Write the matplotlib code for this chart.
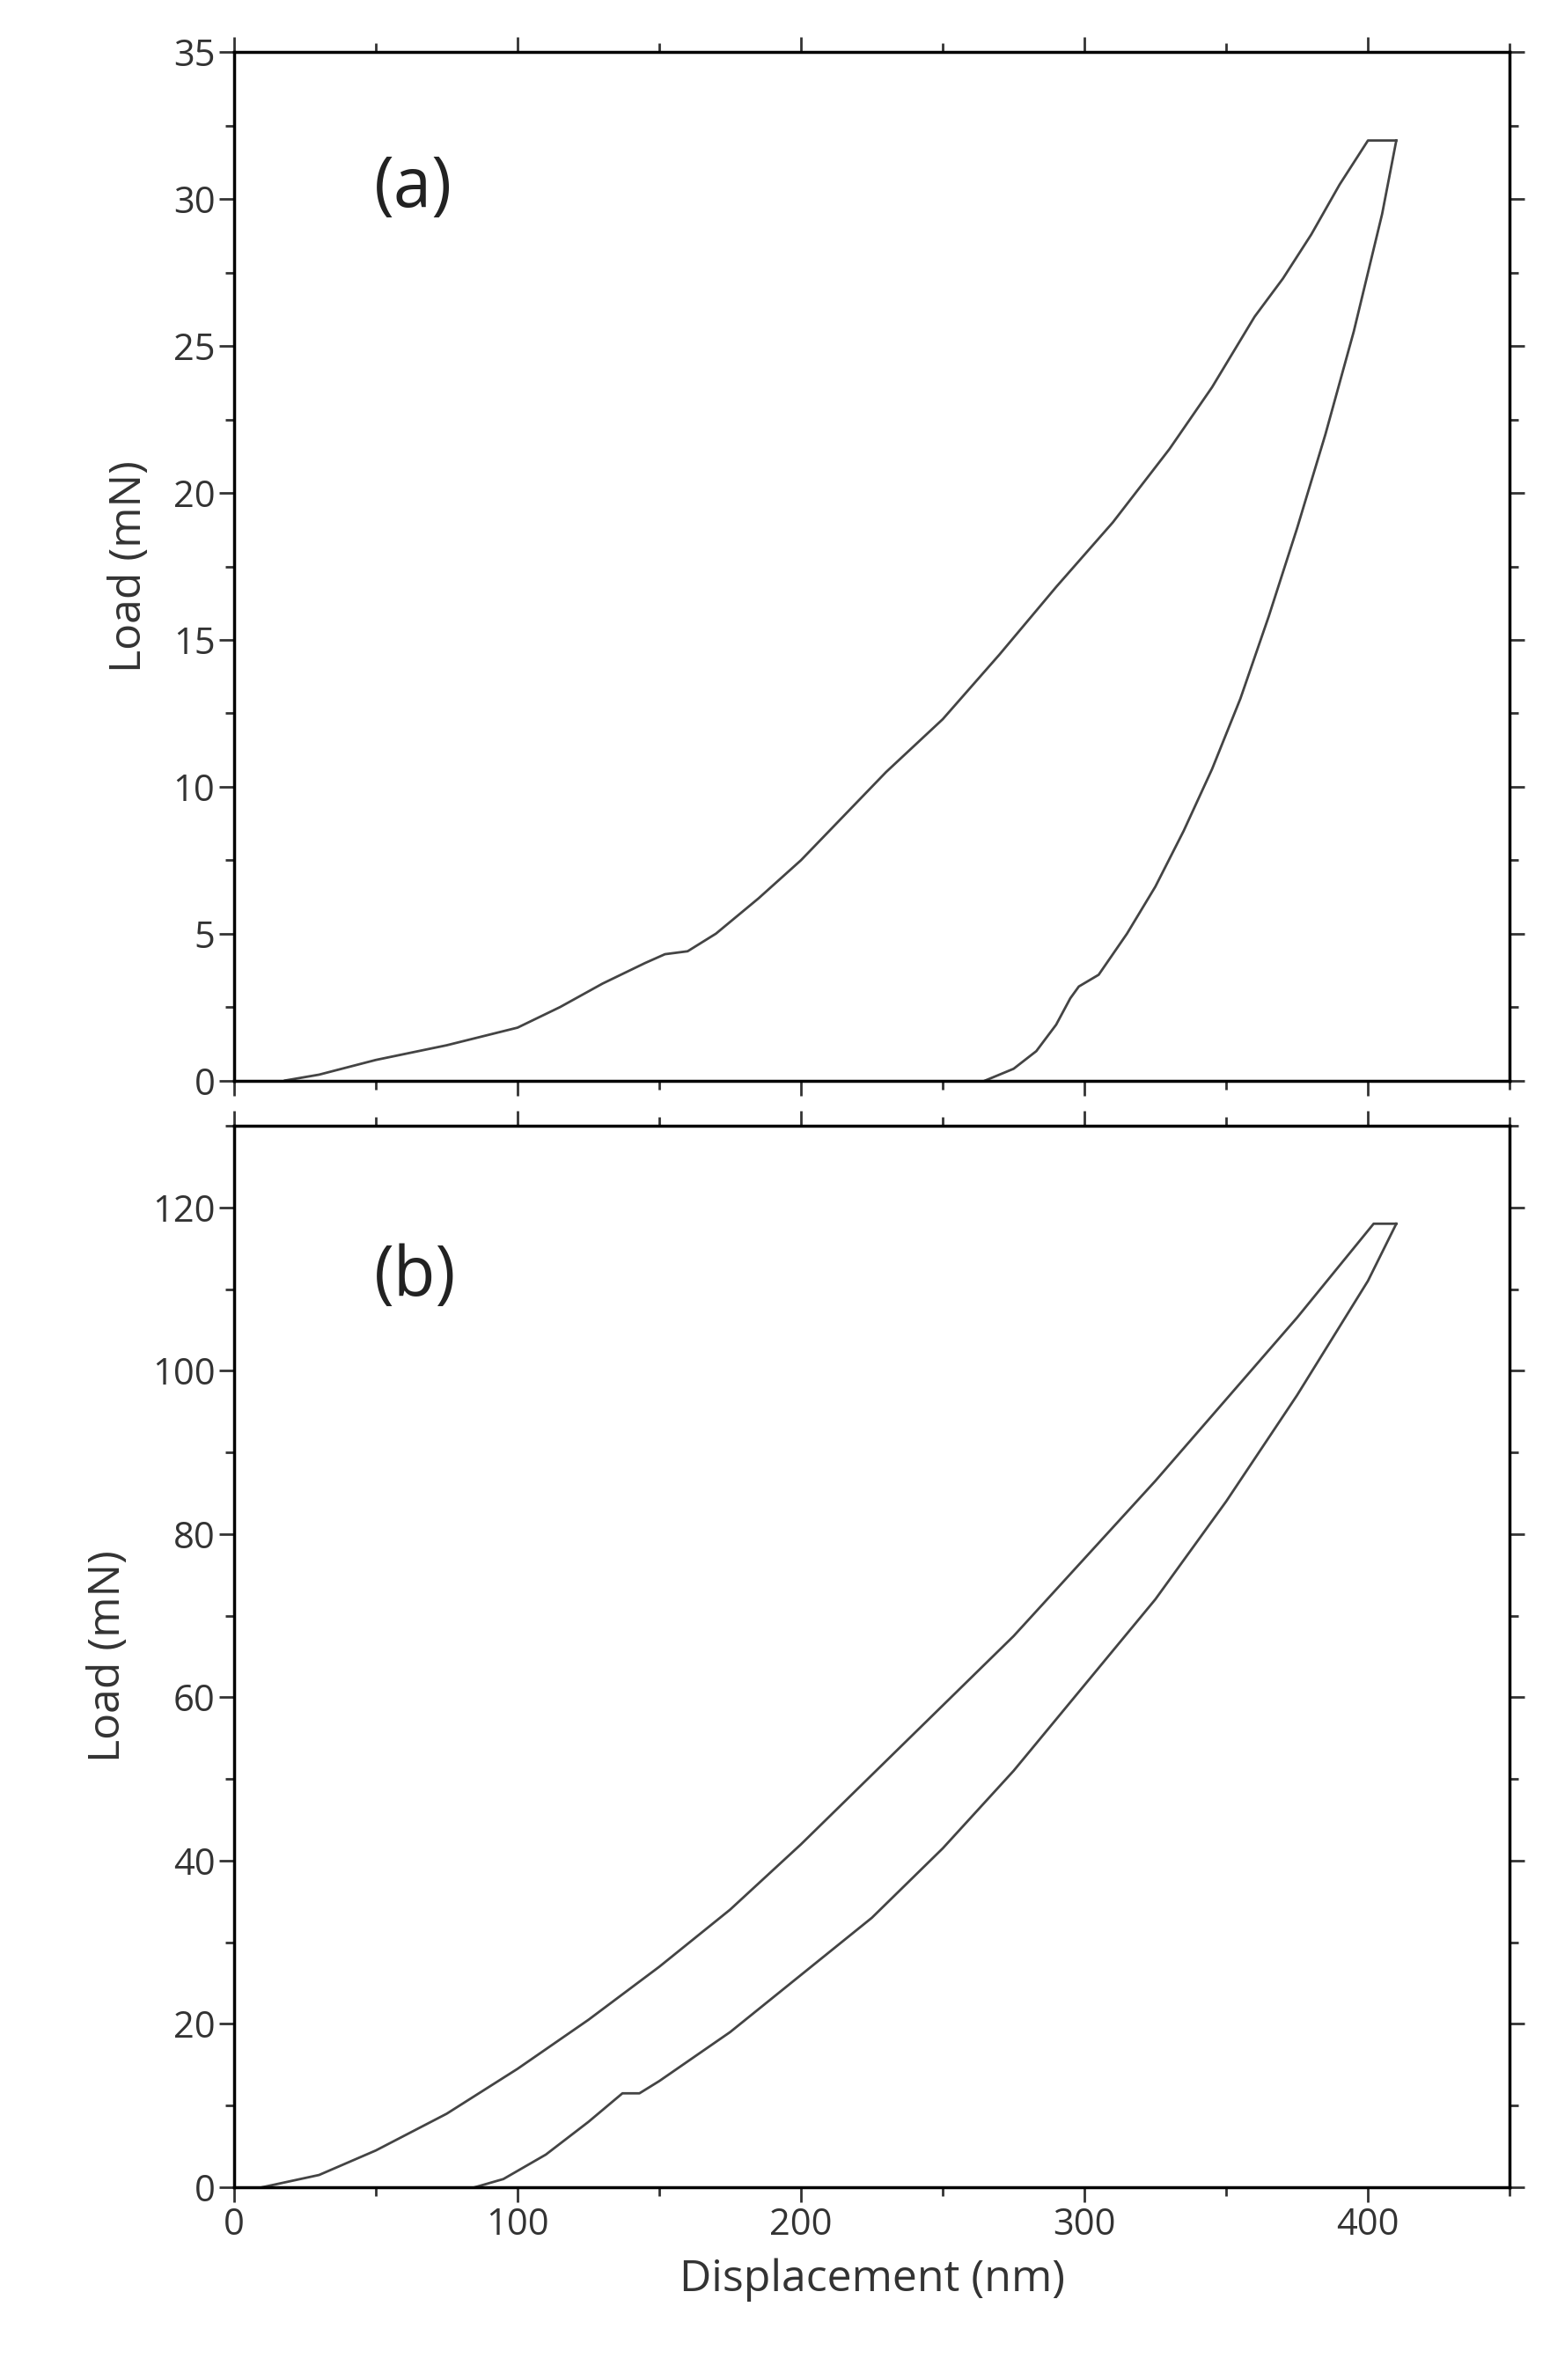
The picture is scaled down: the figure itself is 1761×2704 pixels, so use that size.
import matplotlib
matplotlib.use("Agg")
import matplotlib.pyplot as plt
from matplotlib.ticker import MultipleLocator

plt.rcParams['font.family'] = ['Open Sans', 'DejaVu Sans']

a_load_x = [18, 30, 50, 75, 100, 115, 130, 145, 152, 160, 170, 185, 200, 215, 230, 250, 270, 290, 310, 330, 345, 360, 370, 380, 390, 400, 410]
a_load_y = [0, 0.2, 0.7, 1.2, 1.8, 2.5, 3.3, 4.0, 4.3, 4.4, 5.0, 6.2, 7.5, 9.0, 10.5, 12.3, 14.5, 16.8, 19.0, 21.5, 23.6, 26.0, 27.3, 28.8, 30.5, 32.0, 32.0]
a_unl_x = [410, 405, 395, 385, 375, 365, 355, 345, 335, 325, 315, 305, 298, 295, 290, 283, 275, 265]
a_unl_y = [32.0, 29.5, 25.5, 22.0, 18.8, 15.8, 13.0, 10.6, 8.5, 6.6, 5.0, 3.6, 3.2, 2.8, 1.9, 1.0, 0.4, 0]

b_load_x = [10, 30, 50, 75, 100, 125, 150, 175, 200, 225, 250, 275, 300, 325, 350, 375, 402, 410]
b_load_y = [0, 1.5, 4.5, 9.0, 14.5, 20.5, 27.0, 34.0, 42.0, 50.5, 59.0, 67.5, 77.0, 86.5, 96.5, 106.5, 118, 118]
b_unl_x = [410, 400, 375, 350, 325, 300, 275, 250, 225, 200, 175, 150, 143, 137, 125, 110, 95, 85]
b_unl_y = [118, 111, 97.0, 84.0, 72.0, 61.5, 51.0, 41.5, 33.0, 26.0, 19.0, 13.0, 11.5, 11.5, 8.0, 4.0, 1.0, 0]

fig = plt.figure(figsize=(17.61, 27.04), dpi=100)
ax1 = fig.add_axes([0.151, 0.546, 0.823, 0.432])
ax2 = fig.add_axes([0.151, 0.081, 0.823, 0.446])

col = '#444444'
for ax in (ax1, ax2):
    ax.set_xlim(0, 450)
    ax.xaxis.set_major_locator(MultipleLocator(100))
    ax.xaxis.set_minor_locator(MultipleLocator(50))
    ax.tick_params(which='both', direction='out', top=True, right=True, labelsize=30, width=2, colors='#333333')
    ax.tick_params(which='major', length=12)
    ax.tick_params(which='minor', length=7)
    for s in ax.spines.values():
        s.set_linewidth(2.5)
    ax.set_ylabel('Load (mN)', fontsize=36, color='#333333', labelpad=18)

ax1.plot(a_load_x, a_load_y, color=col, lw=2)
ax1.plot(a_unl_x, a_unl_y, color=col, lw=2)
ax1.set_ylim(0, 35)
ax1.yaxis.set_major_locator(MultipleLocator(5))
ax1.yaxis.set_minor_locator(MultipleLocator(2.5))
ax1.tick_params(labelbottom=False)
ax1.text(0.11, 0.85, '(a)', transform=ax1.transAxes, fontsize=56, color='#222222')

ax2.plot(b_load_x, b_load_y, color=col, lw=2)
ax2.plot(b_unl_x, b_unl_y, color=col, lw=2)
ax2.set_ylim(0, 130)
ax2.yaxis.set_major_locator(MultipleLocator(20))
ax2.yaxis.set_minor_locator(MultipleLocator(10))
ax2.set_xlabel('Displacement (nm)', fontsize=36, color='#333333', labelpad=12)
ax2.text(0.11, 0.84, '(b)', transform=ax2.transAxes, fontsize=56, color='#222222')

fig.savefig('out.png', dpi=100, facecolor='white')
